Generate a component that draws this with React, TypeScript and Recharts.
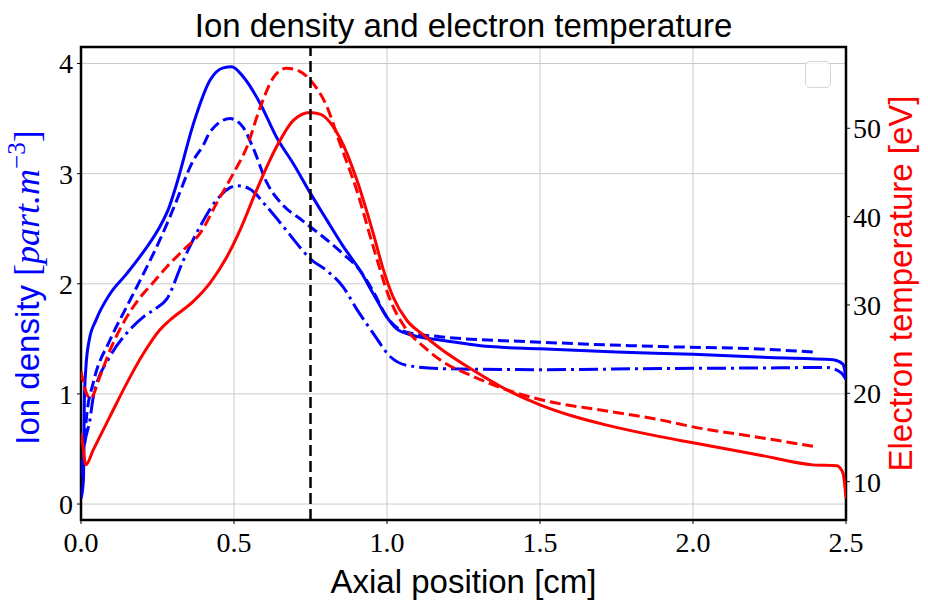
import { LineChart, Line, XAxis, YAxis, CartesianGrid, ReferenceLine, ReferenceArea, Legend } from 'recharts';

const xTicks = [0, 0.5, 1.0, 1.5, 2.0, 2.5];
const densityTicks = [0, 1, 2, 3, 4];
const tempTicks = [10, 20, 30, 40, 50];
const densityDomain = [-0.145, 4.15];
const tempDomain = [5.66, 59.2];
const probeX = 0.75;

// ion density, solid
const nSolidX = [0, 0.008, 0.011, 0.016, 0.027, 0.049, 0.095, 0.149, 0.204, 0.258, 0.286, 0.313, 0.367, 0.422, 0.465, 0.492, 0.53, 0.585, 0.639, 0.694, 0.748, 0.803, 0.857, 0.912, 0.955, 0.999, 1.032, 1.086, 1.173, 1.337, 1.5, 1.75, 2.0, 2.25, 2.458, 2.49, 2.5];
const nSolidY = [0.05, 0.22, 0.94, 1.24, 1.49, 1.67, 1.91, 2.09, 2.29, 2.52, 2.68, 2.91, 3.45, 3.85, 3.96, 3.97, 3.88, 3.64, 3.33, 3.09, 2.83, 2.58, 2.34, 2.12, 1.91, 1.7, 1.59, 1.53, 1.49, 1.43, 1.41, 1.38, 1.36, 1.33, 1.31, 1.27, 1.14];

// ion density, dashed
const nDashX = [0, 0.012, 0.018, 0.04, 0.095, 0.149, 0.204, 0.258, 0.291, 0.313, 0.367, 0.4, 0.422, 0.487, 0.53, 0.563, 0.607, 0.661, 0.716, 0.748, 0.803, 0.857, 0.912, 0.955, 0.999, 1.064, 1.173, 1.5, 1.892, 2.2, 2.392];
const nDashY = [0.3, 0.6, 0.79, 1.1, 1.49, 1.79, 2.09, 2.4, 2.61, 2.76, 3.12, 3.26, 3.38, 3.5, 3.42, 3.23, 2.92, 2.71, 2.59, 2.52, 2.4, 2.27, 2.12, 1.93, 1.7, 1.56, 1.52, 1.47, 1.43, 1.41, 1.38];

// ion density, dash-dot
const nDotX = [0, 0.012, 0.029, 0.04, 0.095, 0.149, 0.204, 0.247, 0.28, 0.334, 0.389, 0.443, 0.509, 0.552, 0.607, 0.661, 0.716, 0.748, 0.803, 0.857, 0.901, 0.955, 1.01, 1.064, 1.173, 1.5, 1.892, 2.2, 2.437, 2.485, 2.5];
const nDotY = [0.25, 0.55, 0.76, 0.97, 1.34, 1.55, 1.7, 1.78, 1.86, 2.21, 2.52, 2.76, 2.89, 2.86, 2.7, 2.52, 2.33, 2.23, 2.12, 1.97, 1.77, 1.55, 1.34, 1.26, 1.23, 1.22, 1.23, 1.235, 1.24, 1.19, 1.13];

// electron temperature, solid
const teSolidX = [0, 0.005, 0.016, 0.04, 0.095, 0.149, 0.204, 0.258, 0.291, 0.367, 0.422, 0.476, 0.52, 0.569, 0.639, 0.694, 0.748, 0.781, 0.846, 0.901, 0.955, 0.988, 1.02, 1.064, 1.119, 1.173, 1.282, 1.391, 1.5, 1.609, 1.718, 1.892, 2.0, 2.219, 2.392, 2.47, 2.49, 2.5];
const teSolidY = [15.5, 14.4, 11.9, 13.6, 17.4, 21.1, 24.5, 27.2, 28.3, 30.4, 32.5, 35.4, 38.5, 42.6, 47.9, 50.9, 51.8, 51.6, 48.9, 44.2, 38.1, 34.0, 30.9, 28.3, 26.6, 25.1, 22.6, 20.4, 18.7, 17.4, 16.4, 15.1, 14.4, 13.0, 11.9, 11.8, 11.0, 8.1];

// electron temperature, dashed
const teDashX = [0, 0.018, 0.03, 0.062, 0.095, 0.149, 0.204, 0.225, 0.28, 0.334, 0.389, 0.443, 0.498, 0.541, 0.585, 0.628, 0.672, 0.705, 0.748, 0.803, 0.846, 0.901, 0.955, 1.01, 1.064, 1.119, 1.173, 1.282, 1.391, 1.5, 1.718, 1.892, 2.0, 2.2, 2.392];
const teDashY = [22.5, 20.0, 19.4, 21.9, 24.9, 28.6, 31.3, 32.1, 34.3, 36.2, 38.1, 41.5, 44.9, 47.8, 52.3, 55.7, 56.8, 56.6, 55.5, 52.5, 48.3, 43.0, 36.6, 30.6, 27.2, 25.3, 23.8, 21.9, 20.4, 19.3, 18.0, 17.0, 16.2, 15.1, 14.0];

const toPoints = (xs: number[], ys: number[]) => xs.map((x, i) => ({ x, y: ys[i] }));

const SANS = '"Liberation Sans", Arial, sans-serif';
const SERIF = '"Liberation Serif", "Times New Roman", serif';

const TitleLabel = (props: any) => {
  const { x, y, width } = props.viewBox;
  return (
    <text x={x + width / 2} y={y - 10} textAnchor="middle" fontFamily={SANS} fontSize={33} fill="#000">
      Ion density and electron temperature
    </text>
  );
};

const XLabel = (props: any) => {
  const { x, y, width } = props.viewBox;
  return (
    <text x={x + width / 2} y={y + 73} textAnchor="middle" fontFamily={SANS} fontSize={33} fill="#000">
      Axial position [cm]
    </text>
  );
};

const LeftLabel = (props: any) => {
  const { y, height } = props.viewBox;
  const cx = 39;
  const cy = y + height / 2 + 4;
  return (
    <text x={cx} y={cy} transform={`rotate(-90, ${cx}, ${cy})`} textAnchor="middle" fontSize={33} fill="#0000ff">
      <tspan fontFamily={SANS}>{'Ion density '}</tspan>
      <tspan fontFamily={SERIF} fontSize={36}>[</tspan>
      <tspan fontFamily={SERIF} fontSize={36} fontStyle="italic">part.m</tspan>
      <tspan fontFamily={SERIF} fontSize={25} dy={-14}>−3</tspan>
      <tspan fontFamily={SERIF} fontSize={36} dy={14}>]</tspan>
    </text>
  );
};

const RightLabel = (props: any) => {
  const { x, y, height } = props.viewBox;
  const cx = x + 66;
  const cy = y + height / 2;
  return (
    <text x={cx} y={cy} transform={`rotate(-90, ${cx}, ${cy})`} textAnchor="middle" fontFamily={SANS} fontSize={33} fill="#ff0000">
      Electron temperature [eV]
    </text>
  );
};

const EmptyLegend = () => (
  <div style={{ width: 26, height: 27, boxSizing: 'border-box', border: '1px solid #d6d6d6', borderRadius: 5, background: 'rgba(255,255,255,0.8)' }} />
);

const tickStyle = { fontFamily: SERIF, fontSize: 28, fill: '#000' };

export default function App() {
  return (
    <div style={{ position: 'absolute', left: 0, top: 0, width: 928, height: 600, background: '#fff' }}>
      <LineChart width={928} height={600} margin={{ top: 47, right: 0, bottom: 0, left: 0 }}>
        <CartesianGrid yAxisId="n" stroke="#cbcbcb" strokeWidth={1} />
        <XAxis
          dataKey="x"
          type="number"
          domain={[0, 2.5]}
          ticks={xTicks}
          tickFormatter={(v: number) => v.toFixed(1)}
          allowDataOverflow
          height={80}
          axisLine={false}
          tickLine={{ stroke: '#000' }}
          tickSize={4}
          tickMargin={8}
          tick={tickStyle}
          label={XLabel}
        />
        <YAxis
          yAxisId="n"
          orientation="left"
          type="number"
          domain={densityDomain}
          ticks={densityTicks}
          allowDataOverflow
          width={81}
          axisLine={false}
          tickLine={{ stroke: '#000' }}
          tickSize={4}
          tickMargin={4}
          tick={tickStyle}
          label={LeftLabel}
        />
        <YAxis
          yAxisId="te"
          orientation="right"
          type="number"
          domain={tempDomain}
          ticks={tempTicks}
          allowDataOverflow
          width={82}
          axisLine={false}
          tickLine={{ stroke: '#000' }}
          tickSize={4}
          tickMargin={3}
          tick={tickStyle}
          label={RightLabel}
        />
        <Line yAxisId="n" data={toPoints(nSolidX, nSolidY)} dataKey="y" type="monotone" stroke="#0000ff" strokeWidth={3} dot={false} isAnimationActive={false} />
        <Line yAxisId="n" data={toPoints(nDashX, nDashY)} dataKey="y" type="monotone" stroke="#0000ff" strokeWidth={3} strokeDasharray="11 5" dot={false} isAnimationActive={false} />
        <Line yAxisId="n" data={toPoints(nDotX, nDotY)} dataKey="y" type="monotone" stroke="#0000ff" strokeWidth={3} strokeDasharray="19 5 3 5" dot={false} isAnimationActive={false} />
        <Line yAxisId="te" data={toPoints(teSolidX, teSolidY)} dataKey="y" type="monotone" stroke="#ff0000" strokeWidth={3} dot={false} isAnimationActive={false} />
        <Line yAxisId="te" data={toPoints(teDashX, teDashY)} dataKey="y" type="monotone" stroke="#ff0000" strokeWidth={3} strokeDasharray="11 5" dot={false} isAnimationActive={false} />
        <ReferenceLine yAxisId="n" x={probeX} stroke="#000" strokeWidth={2.5} strokeDasharray="11 5" />
        <ReferenceArea
          yAxisId="n"
          x1={0}
          x2={2.5}
          y1={densityDomain[0]}
          y2={densityDomain[1]}
          fill="none"
          stroke="#000"
          strokeWidth={2.5}
          ifOverflow="visible"
          label={TitleLabel}
        />
        <Legend
          layout="horizontal"
          verticalAlign="middle"
          align="center"
          content={EmptyLegend}
          wrapperStyle={{ left: 805, top: 61, width: 26, height: 27 }}
        />
      </LineChart>
    </div>
  );
}
